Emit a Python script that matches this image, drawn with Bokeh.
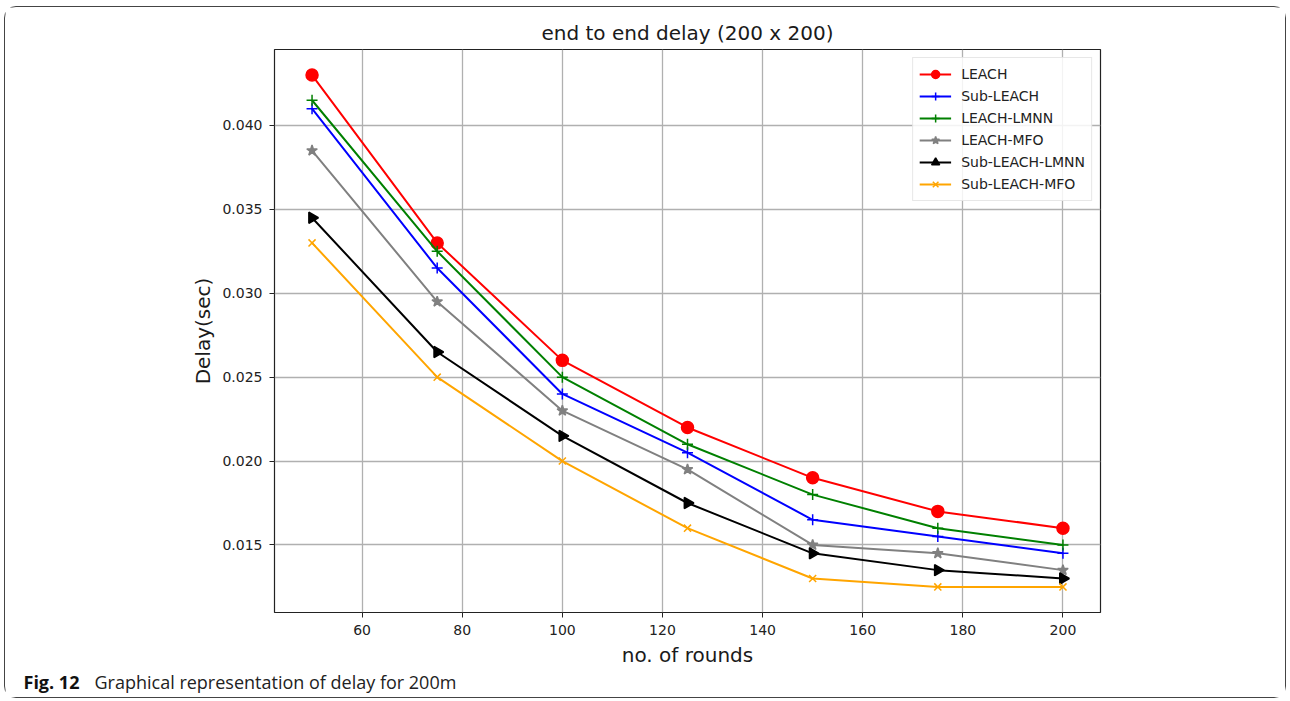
import math
from bokeh.plotting import figure
from bokeh.models import (Legend, LegendItem, NumeralTickFormatter, FixedTicker,
                          Label, Range1d, Title)
from bokeh.embed import file_html
from bokeh.resources import INLINE

rounds = [50, 75, 100, 125, 150, 175, 200]
leach = [0.043, 0.033, 0.026, 0.022, 0.019, 0.017, 0.016]
sub_leach = [0.041, 0.0315, 0.024, 0.0205, 0.0165, 0.0155, 0.0145]
leach_lmnn = [0.0415, 0.0325, 0.025, 0.021, 0.018, 0.016, 0.015]
leach_mfo = [0.0385, 0.0295, 0.023, 0.0195, 0.015, 0.0145, 0.0135]
sub_leach_lmnn = [0.0345, 0.0265, 0.0215, 0.0175, 0.0145, 0.0135, 0.013]
sub_leach_mfo = [0.033, 0.025, 0.020, 0.016, 0.013, 0.0125, 0.0125]

x_ticks = [60, 80, 100, 120, 140, 160, 180, 200]
y_ticks = [0.015, 0.020, 0.025, 0.030, 0.035, 0.040]

W, H = 1282, 692
FONT = "DejaVu Sans"

p = figure(width=W, height=H, output_backend="svg", toolbar_location=None,
           x_range=Range1d(42.5, 207.5), y_range=Range1d(0.010975, 0.044525),
           min_border_left=269, min_border_right=187, min_border_top=42,
           min_border_bottom=87)
p.styles = {"border": "1px solid #444444", "border-radius": "12px",
            "margin-left": "4px", "margin-top": "6px"}
p.title = Title(text="end to end delay (200 x 200)", align="center",
                text_font=FONT, text_font_size="20px", text_font_style="normal",
                text_color="#1a1a1a")

p.outline_line_color = "#222222"
p.outline_line_width = 1.2
for ax in (p.xaxis[0], p.yaxis[0]):
    ax.axis_line_color = None
    ax.major_tick_line_color = "#222222"
    ax.major_tick_out = 5
    ax.major_tick_in = 0
    ax.minor_tick_line_color = None
    ax.major_label_text_font = FONT
    ax.major_label_text_font_size = "14px"
    ax.major_label_text_color = "#222222"
    ax.axis_label_text_font = FONT
    ax.axis_label_text_font_size = "20px"
    ax.axis_label_text_font_style = "normal"
    ax.axis_label_text_color = "#1a1a1a"

p.xaxis.ticker = FixedTicker(ticks=x_ticks)
p.yaxis.ticker = FixedTicker(ticks=y_ticks)
p.yaxis.formatter = NumeralTickFormatter(format="0.000")
p.xaxis.axis_label = "no. of rounds"
p.yaxis.axis_label = "Delay(sec)"
p.xaxis.major_label_standoff = 7
p.yaxis.major_label_standoff = 7
p.xaxis.axis_label_standoff = 5
p.yaxis.axis_label_standoff = 4

p.grid.grid_line_color = "#b0b0b0"
p.grid.grid_line_width = 1.3
p.xgrid.ticker = FixedTicker(ticks=x_ticks)
p.ygrid.ticker = FixedTicker(ticks=y_ticks)

series = [
    ("LEACH", leach, "red", "circle", 12, 0),
    ("Sub-LEACH", sub_leach, "blue", "cross", 11, 0),
    ("LEACH-LMNN", leach_lmnn, "green", "cross", 11, 0),
    ("LEACH-MFO", leach_mfo, "gray", "star", 11, 0),
    ("Sub-LEACH-LMNN", sub_leach_lmnn, "black", "triangle", 11, -math.pi / 2),
    ("Sub-LEACH-MFO", sub_leach_mfo, "orange", "x", 10, 0),
]

items = []
for name, vals, color, marker, size, ang in series:
    r1 = p.line(rounds, vals, line_color=color, line_width=2)
    r2 = p.scatter(rounds, vals, marker=marker, size=size, angle=ang,
                   fill_color=color, line_color=color, line_width=1.5)
    items.append(LegendItem(label=name, renderers=[r1, r2]))

legend = Legend(items=items, location="top_right")
legend.margin = 8
legend.padding = 6
legend.spacing = 2
legend.glyph_width = 32
legend.glyph_height = 20
legend.label_height = 20
legend.label_standoff = 10
legend.label_text_font = FONT
legend.label_text_font_size = "14px"
legend.label_text_color = "#222222"
legend.border_line_color = "#d0d0d0"
legend.border_line_width = 1
legend.background_fill_alpha = 0.85
p.add_layout(legend, "center")

cap1 = Label(x=17, y=673, x_units="canvas", y_units="canvas", text="Fig. 12",
             text_font="Open Sans", text_font_style="bold", text_font_size="18px",
             text_color="#111111", text_baseline="alphabetic")
cap2 = Label(x=88, y=673, x_units="canvas", y_units="canvas",
             text="Graphical representation of delay for 200m",
             text_font="Open Sans", text_font_size="18px",
             text_color="#222222", text_baseline="alphabetic")
p.add_layout(cap1, "left")
p.add_layout(cap2, "below")

open("out.html", "w").write(file_html(p, INLINE))
